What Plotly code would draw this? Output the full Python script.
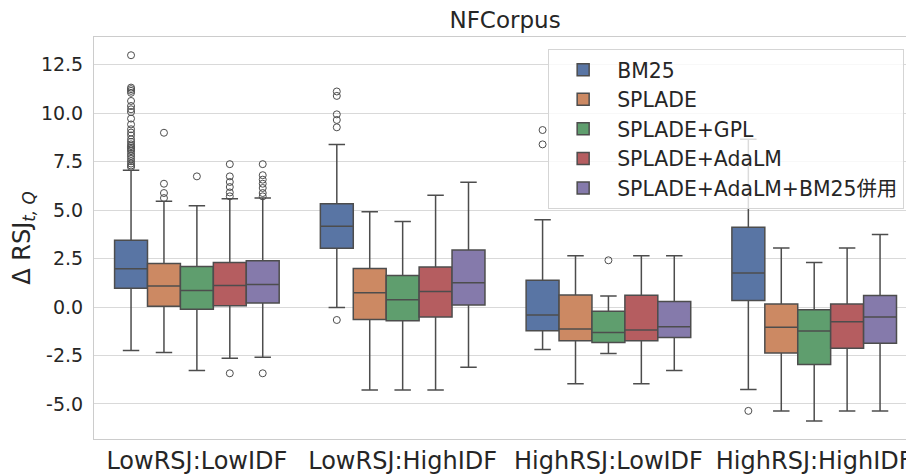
import plotly.graph_objects as go

categories = ["LowRSJ:LowIDF", "LowRSJ:HighIDF", "HighRSJ:LowIDF", "HighRSJ:HighIDF"]
methods = ["BM25", "SPLADE", "SPLADE+GPL", "SPLADE+AdaLM", "SPLADE+AdaLM+BM25併用"]
colors = ["#5975a4", "#cc8963", "#5f9e6e", "#b55d60", "#857aab"]

# per method: values for the 4 categories
lowerfence = {
    "BM25": [-2.25, -0.02, -2.19, -4.25],
    "SPLADE": [-2.35, -4.28, -3.96, -5.36],
    "SPLADE+GPL": [-3.27, -4.28, -2.40, -5.88],
    "SPLADE+AdaLM": [-2.64, -4.28, -3.96, -5.36],
    "SPLADE+AdaLM+BM25併用": [-2.59, -3.11, -3.28, -5.36],
}
q1 = {
    "BM25": [0.97, 3.03, -1.22, 0.33],
    "SPLADE": [0.04, -0.65, -1.74, -2.37],
    "SPLADE+GPL": [-0.12, -0.71, -1.83, -2.97],
    "SPLADE+AdaLM": [0.07, -0.52, -1.74, -2.13],
    "SPLADE+AdaLM+BM25併用": [0.21, 0.10, -1.57, -1.87],
}
median = {
    "BM25": [1.97, 4.17, -0.41, 1.76],
    "SPLADE": [1.09, 0.73, -1.14, -1.04],
    "SPLADE+GPL": [0.85, 0.38, -1.31, -1.24],
    "SPLADE+AdaLM": [1.11, 0.80, -1.19, -0.76],
    "SPLADE+AdaLM+BM25併用": [1.16, 1.25, -1.02, -0.52],
}
q3 = {
    "BM25": [3.44, 5.33, 1.38, 4.12],
    "SPLADE": [2.25, 1.99, 0.62, 0.16],
    "SPLADE+GPL": [2.09, 1.63, -0.22, -0.14],
    "SPLADE+AdaLM": [2.30, 2.06, 0.61, 0.16],
    "SPLADE+AdaLM+BM25併用": [2.39, 2.94, 0.28, 0.59],
}
upperfence = {
    "BM25": [7.05, 8.39, 4.50, 8.66],
    "SPLADE": [5.45, 4.91, 2.65, 3.04],
    "SPLADE+GPL": [5.22, 4.41, 0.57, 2.30],
    "SPLADE+AdaLM": [5.59, 5.76, 2.65, 3.04],
    "SPLADE+AdaLM+BM25併用": [5.62, 6.43, 2.65, 3.74],
}
# outliers per method, per category
outliers = {
    "BM25": [
        [7.22, 7.30, 7.40, 7.52, 7.65, 7.78, 7.90, 8.04, 8.13, 8.21, 8.30, 8.39,
         8.52, 8.65, 8.85, 9.00, 9.17, 9.42, 9.72, 10.06, 10.20, 10.37, 10.63,
         11.05, 11.15, 11.24, 11.32, 12.99],
        [11.12, 10.89, 9.94, 9.65, 9.27, -0.67],
        [9.13, 8.39],
        [-5.36],
    ],
    "SPLADE": [[8.99, 6.36, 5.88, 5.62], [], [], []],
    "SPLADE+GPL": [[6.74], [], [2.41], []],
    "SPLADE+AdaLM": [[7.37, 6.74, 6.45, 6.19, 5.91, 5.71, -3.42], [], [], []],
    "SPLADE+AdaLM+BM25併用": [[7.37, 6.80, 6.57, 6.36, 6.14, 5.88, 5.71, -3.42], [], [], []],
}
y_ticks = [-5.0, -2.5, 0.0, 2.5, 5.0, 7.5, 10.0, 12.5]

FONT = "DejaVu Sans, Noto Sans CJK JP, sans-serif"
TEXT = "#262626"
LINE = "#4d4d4d"
GROUP_W = 0.8
n = len(methods)
bw = GROUP_W / n

fig = go.Figure()
for j, m in enumerate(methods):
    off = (j - (n - 1) / 2) * bw
    xs = [i + off for i in range(len(categories))]
    fig.add_trace(go.Box(
        name=m, x=xs, legendgroup=m,
        q1=q1[m], median=median[m], q3=q3[m],
        lowerfence=lowerfence[m], upperfence=upperfence[m],
        width=bw, whiskerwidth=0.5,
        fillcolor=colors[j], line=dict(color=LINE, width=1.5),
        boxpoints=False, showlegend=True, hoverinfo="skip",
    ))
for j, m in enumerate(methods):
    off = (j - (n - 1) / 2) * bw
    ox, oy = [], []
    for i, vals in enumerate(outliers[m]):
        ox += [i + off] * len(vals)
        oy += vals
    fig.add_trace(go.Scatter(
        x=ox, y=oy, mode="markers", showlegend=False, hoverinfo="skip",
        legendgroup=m,
        marker=dict(symbol="circle-open", size=7, color=LINE, line=dict(width=1)),
    ))

# the page body adds an 8px margin; the figure is sized to fill the rest
fig.update_layout(
    width=906, height=466,
    margin=dict(l=86, r=0, t=29, b=35),
    paper_bgcolor="white", plot_bgcolor="white",
    boxmode="overlay",
    font=dict(family=FONT, color=TEXT),
    title=dict(text="NFCorpus", x=0.5486, xanchor="center", y=0.974, yanchor="middle",
               font=dict(size=23, color=TEXT)),
    legend=dict(
        x=0.988, xanchor="right", y=0.97, yanchor="top",
        bgcolor="rgba(255,255,255,0.8)", bordercolor="#d5d5d5", borderwidth=1,
        font=dict(size=20.4, color=TEXT), itemwidth=58, tracegroupgap=0,
        traceorder="grouped",
    ),
    xaxis=dict(
        range=[-0.5, 3.485], tickvals=list(range(len(categories))), ticktext=categories,
        showgrid=False, zeroline=False, showline=True, linecolor="#cccccc", linewidth=1,
        mirror=True, ticks="", tickfont=dict(size=24, color=TEXT),
    ),
    yaxis=dict(
        range=[-6.81, 13.93], tickvals=y_ticks, ticktext=[f"{v:.1f}" for v in y_ticks],
        showgrid=True, gridcolor="#d9d9d9", gridwidth=1, zeroline=False,
        showline=True, linecolor="#cccccc", linewidth=1, mirror=True, ticks="",
        tickfont=dict(size=19, color=TEXT), ticklabelstandoff=6,
        title=dict(text="Δ RSJ<sub><i>t, Q</i></sub>", font=dict(size=24, color=TEXT), standoff=16),
    ),
)
fig.write_html("out.html")
